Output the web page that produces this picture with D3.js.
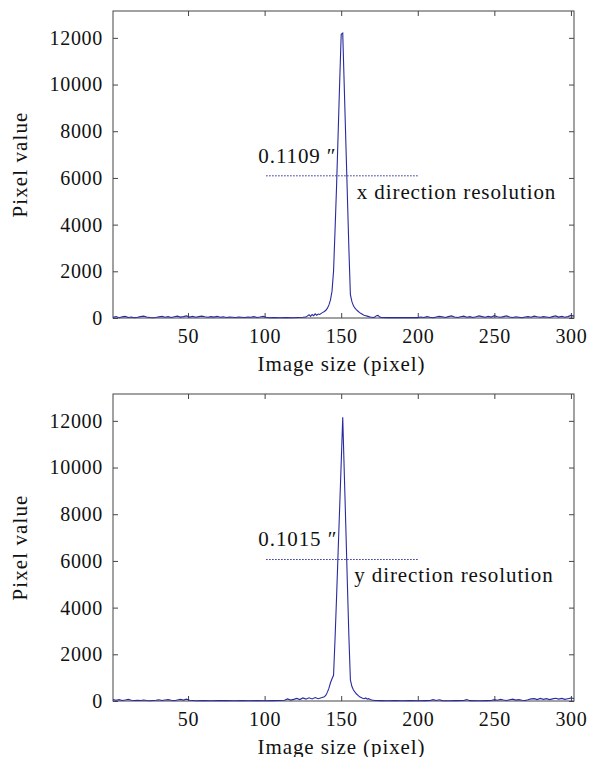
<!DOCTYPE html>
<html>
<head>
<meta charset="utf-8">
<script src="https://cdn.jsdelivr.net/npm/d3@7"></script>
<style>
  body { margin: 0; background: #fff; }
</style>
</head>
<body>
<div id="my_dataviz"></div>
<script>
// x direction profile (image column -> pixel value)
const xDirPos = [1,3,5,7,9,11,13,15,17,19,21,23,25,27,29,31,33,35,37,39,41,43,45,47,49,51,53,55,57,59,61,63,65,67,69,71,73,75,77,79,81,83,85,87,89,91,93,95,97,99,101,103,106,110,114,118,122,125,127,
  128,129,130,131,132,133,134,135,136,137,138,139,140,141,142,143,144,145,146,147,148,149,150,151,152,153,154,155,156,157,158,159,160,161,162,163,164,165,166,167,168,169,170,171,172,173,174,175,176,180,185,190,195,200,
  202,204,206,208,210,212,214,216,218,220,222,224,226,228,230,232,234,236,238,240,242,244,246,248,250,252,254,256,258,260,262,264,266,268,270,272,274,276,278,280,282,284,286,288,290,292,294,296,298,300,302];
const xDirVal = [30,60,10,50,70,20,40,10,30,60,80,40,20,10,20,50,70,30,60,20,50,80,40,60,90,40,70,30,60,80,50,30,60,40,70,30,50,20,40,30,20,40,30,20,40,30,60,20,40,70,30,10,20,10,20,10,20,30,40,
  90,140,70,150,100,180,120,170,150,200,240,280,330,420,560,780,1150,2000,3800,5700,7900,10100,12150,12200,9900,7600,5300,3000,1000,700,520,420,350,290,230,190,150,120,100,80,60,40,30,20,40,100,110,50,20,15,15,15,15,15,
  40,20,60,30,10,40,70,50,20,60,90,40,20,50,80,30,60,20,50,90,60,30,70,40,100,50,30,60,90,40,20,50,30,10,40,60,30,80,50,30,60,40,20,60,90,40,70,30,60,110,80];

// y direction profile (image row -> pixel value)
const yDirPos = [1,3,5,7,9,11,13,15,17,19,21,23,25,27,29,31,33,35,37,39,41,43,45,47,49,51,55,60,65,70,75,80,85,90,95,100,105,110,113,115,117,119,121,123,125,127,129,131,133,135,137,139,
  140,141,142,143,144,145,146,147,148,149,150,151,152,153,154,155,156,157,158,159,160,161,162,163,164,165,166,167,168,169,170,172,176,180,185,190,195,200,205,208,210,212,214,216,220,225,230,232,234,240,245,248,
  250,252,254,256,258,260,262,264,266,268,270,272,274,276,278,280,282,284,286,288,290,292,294,296,298,300,302];
const yDirVal = [60,30,60,20,40,70,30,20,30,20,40,20,10,20,30,50,20,40,60,30,10,40,70,40,80,30,10,15,10,20,15,10,15,10,15,10,15,20,30,90,40,70,110,60,130,80,140,90,150,100,140,180,
  250,380,550,780,950,1100,2700,4500,6400,8300,10200,12150,9800,7500,5100,2800,900,620,470,380,300,240,180,150,120,100,130,80,100,60,40,20,15,10,15,10,15,10,15,20,60,20,50,15,10,15,20,60,15,10,15,20,
  60,30,70,40,20,50,80,40,60,30,20,50,90,100,60,110,70,100,60,90,120,80,110,70,100,130,110];

// resolution markers: half maximum level, span, labels
const halfMax = [6090, 6060];
const halfSpan = [101, 200];
const fwhmLabels = ["0.1109 \u2033", "0.1015 \u2033"];
const dirLabels = ["x direction resolution", "y direction resolution"];

const xTicks = [50, 100, 150, 200, 250, 300];
const yTicks = [0, 2000, 4000, 6000, 8000, 10000, 12000];

const W = 595, H = 757;
const lineColor = "#2a2aa0";
const axisColor = "#444";
const font = "'Liberation Serif'";

var svg = d3.select("#my_dataviz")
  .append("svg")
    .attr("width", W)
    .attr("height", H);

// both panels share the same horizontal layout
var left = 113, right = 574;
var panels = [
  {top: 11, bottom: 318, pos: xDirPos, val: xDirVal},
  {top: 394, bottom: 701, pos: yDirPos, val: yDirVal}
];

function styleText(sel, size, spacing) {
  return sel
    .attr("font-family", null)
    .style("font-family", font)
    .style("font-size", size + "px")
    .style("letter-spacing", spacing + "px")
    .attr("fill", "#111");
}

panels.forEach(function(p, i) {
  var x = d3.scaleLinear().domain([1, 302]).range([left, right]);
  var y = d3.scaleLinear().domain([0, 13150]).range([p.bottom, p.top]);
  var g = svg.append("g");

  // bottom axis with inward ticks
  g.append("g")
    .attr("transform", "translate(0," + p.bottom + ")")
    .call(d3.axisBottom(x).tickValues(xTicks).tickFormat(d3.format("d"))
      .tickSizeInner(-5).tickSizeOuter(0).tickPadding(11));
  // top mirror ticks
  g.append("g")
    .attr("transform", "translate(0," + p.top + ")")
    .call(d3.axisTop(x).tickValues(xTicks).tickSizeInner(-5).tickSizeOuter(0).tickFormat(""));
  // left axis
  g.append("g")
    .attr("transform", "translate(" + left + ",0)")
    .call(d3.axisLeft(y).tickValues(yTicks).tickFormat(d3.format("d"))
      .tickSizeInner(-5).tickSizeOuter(0).tickPadding(10));
  // right mirror ticks
  g.append("g")
    .attr("transform", "translate(" + right + ",0)")
    .call(d3.axisRight(y).tickValues(yTicks).tickSizeInner(-5).tickSizeOuter(0).tickFormat(""));

  // d3 puts sans-serif on the axis groups, drop it
  g.selectAll("g").attr("font-family", null).attr("font-size", null);
  g.selectAll(".domain").remove();
  g.selectAll(".tick line").attr("stroke", axisColor);
  styleText(g.selectAll(".tick text"), 20, 0.7);

  // box
  g.append("rect")
    .attr("x", left).attr("y", p.top)
    .attr("width", right - left).attr("height", p.bottom - p.top)
    .attr("fill", "none")
    .attr("stroke", axisColor)
    .attr("stroke-width", 1);

  // profile line
  var line = d3.line()
    .x(function(d, k) { return x(p.pos[k]); })
    .y(function(d) { return y(d); });
  g.append("path")
    .datum(p.val)
    .attr("d", line)
    .attr("fill", "none")
    .attr("stroke", lineColor)
    .attr("stroke-width", 1.1);

  // half maximum dotted line
  g.append("line")
    .attr("x1", x(halfSpan[0])).attr("x2", x(halfSpan[1]))
    .attr("y1", y(halfMax[i])).attr("y2", y(halfMax[i]))
    .attr("stroke", lineColor)
    .attr("stroke-width", 1)
    .attr("stroke-dasharray", "1.5,1.5");

  // annotations
  styleText(g.append("text"), 21, 0.9)
    .attr("x", x(95.9)).attr("y", y(6630))
    .text(fwhmLabels[i]);
  styleText(g.append("text"), 21, 0.9)
    .attr("x", x(i === 0 ? 160.2 : 158.5)).attr("y", y(5090))
    .text(dirLabels[i]);

  // axis titles
  styleText(g.append("text"), 21, 0.9)
    .attr("x", (left + right) / 2 - 2)
    .attr("y", p.bottom + 53)
    .attr("text-anchor", "middle")
    .text("Image size (pixel)");
  styleText(g.append("text"), 21, 1.1)
    .attr("transform", "translate(27," + ((p.top + p.bottom) / 2) + ") rotate(-90)")
    .attr("text-anchor", "middle")
    .text("Pixel value");
});
</script>
</body>
</html>
